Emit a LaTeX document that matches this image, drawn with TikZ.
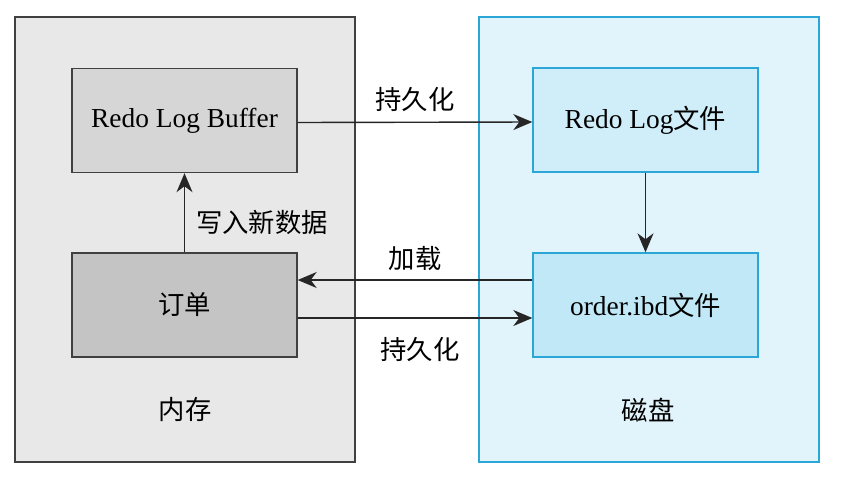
\documentclass[tikz,border=0pt]{standalone}
\usepackage{fontspec}
\setmainfont[Scale=1.04]{Liberation Serif}
\newfontfamily\cjk{Noto Sans CJK SC}
\usetikzlibrary{arrows.meta}
\usetikzlibrary{calc,positioning}
\definecolor{memFill}{HTML}{E8E8E8}
\definecolor{memLine}{HTML}{404040}
\definecolor{diskFill}{HTML}{E2F4FB}
\definecolor{diskLine}{HTML}{2AA7D6}
\definecolor{bufFill}{HTML}{D6D6D6}
\definecolor{orderFill}{HTML}{C4C4C4}
\definecolor{logFill}{HTML}{CFEEF9}
\definecolor{ibdFill}{HTML}{C0E8F7}

\begin{document}
\begin{tikzpicture}[x=0.02cm, y=-0.02cm
    , every node/.style={font=\fontsize{15}{18}\selectfont}
    , area/.style={draw, line width=0.8pt, minimum width=340*0.02cm, minimum height=445*0.02cm, inner sep=0}
    , block/.style={draw, line width=0.8pt, minimum width=225*0.02cm, minimum height=104*0.02cm, inner sep=0}
    , flow/.style={-{Stealth[length=3.8mm,width=3.2mm,inset=1.2mm]}, line width=0.8pt, draw=black!85}
    ]
    \useasboundingbox (0,0) rectangle (851,477);

    % Two areas.
    \node[area, fill=memFill, draw=memLine] (mem) at (185,239.5) {};
    \node[area, fill=diskFill, draw=diskLine] (disk) at (649,239.5) {};

    % Memory side.
    \node[block, fill=bufFill, draw=memLine] (buffer) at (184.5,120.5) {Redo Log Buffer};
    \node[block, fill=orderFill, draw=memLine] (order) at (184.5,305) {\cjk 订单};

    % Disk side.
    \node[block, fill=logFill, draw=diskLine] (logfile) at (645.5,120) {Redo Log{\cjk 文件}};
    \node[block, fill=ibdFill, draw=diskLine] (ibd) at (645.5,305) {order.ibd{\cjk 文件}};

    % Connectors.
    \draw[flow] ($(buffer.east)+(0,2)$) -- ($(logfile.west)+(0,2)$);
    \draw[flow] (order.north) -- (buffer.south);
    \draw[flow] (logfile.south) -- (ibd.north);
    \draw[flow] ($(ibd.west)+(0,-25)$) -- ($(order.east)+(0,-25)$);
    \draw[flow] ($(order.east)+(0,13)$) -- ($(ibd.west)+(0,13)$);

    % Labels.
    \node (l_persist1) at (415,100) {\cjk 持久化};
    \node (l_write) at (262,222) {\cjk 写入新数据};
    \node (l_load) at (415,258) {\cjk 加载};
    \node (l_persist2) at (420,350) {\cjk 持久化};
    \node (l_mem) at (185,410) {\cjk 内存};
    \node (l_disk) at (648,410) {\cjk 磁盘};
\end{tikzpicture}
\end{document}
